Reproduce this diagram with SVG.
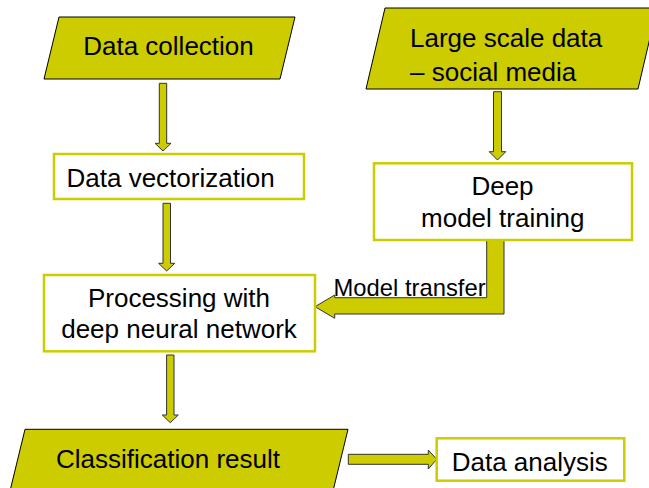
<svg xmlns="http://www.w3.org/2000/svg" width="649" height="488" viewBox="0 0 649 488">
<style>
.para{fill:#CCCC00;stroke:#000;stroke-width:1}
.box{fill:#fff;stroke:#CCCC00;stroke-width:2.5}
.arr{fill:#CCCC00;stroke:#333;stroke-width:1;stroke-linejoin:miter}
text{font-family:"Liberation Sans",Arial,sans-serif;font-size:26px;fill:#000}
.c{text-anchor:middle}
</style>
<rect width="649" height="488" fill="#fff"/>
<g id="connectors">
<polygon class="arr" points="159.3,83.3 166.7,83.3 166.7,143.3 171,143.3 163,151 155,143.3 159.3,143.3"/>
<polygon class="arr" points="163,203.3 170.5,203.3 170.5,263.3 174.8,263.3 166.7,271 158.6,263.3 163,263.3"/>
<polygon class="arr" points="493.5,91.7 501.5,91.7 501.5,151.7 505.8,151.7 497.5,160 489.2,151.7 493.5,151.7"/>
<polygon class="arr" points="166.6,355 174,355 174,415 178.3,415 170.3,422.7 162.3,415 166.6,415"/>
<polygon class="arr" points="348.3,454.3 428.3,454.3 428.3,450 436.7,459.3 428.3,469 428.3,464.3 348.3,464.3"/>
<polygon class="arr" points="486.7,240 504,240 504,314 334.7,314 334.7,318.3 315,306.7 334.7,295 334.7,297.7 486.7,297.7"/>
<text x="333.5" y="295.5" style="font-size:23.8px">Model transfer</text>
</g>
<g id="data-collection">
<polygon class="para" points="59,17 295,17 280,79 44,79"/>
<text class="c" x="168.5" y="55">Data collection</text>
</g>
<g id="large-scale-data">
<polygon class="para" points="385,8 657,8 638,89 366,89"/>
<text x="410" y="46.5">Large scale data</text>
<text x="410" y="80.5">– social media</text>
</g>
<g id="data-vectorization">
<rect class="box" x="54" y="154" width="250" height="45"/>
<text x="66.5" y="186.5">Data vectorization</text>
</g>
<g id="deep-model-training">
<rect class="box" x="374" y="163.3" width="258" height="76.7"/>
<text class="c" x="502.5" y="195">Deep</text>
<text class="c" x="502.7" y="226.7">model training</text>
</g>
<g id="processing">
<rect class="box" x="44" y="275" width="271" height="76.3"/>
<text class="c" x="179" y="306.7">Processing with</text>
<text class="c" x="179" y="338.3">deep neural network</text>
</g>
<g id="classification-result">
<polygon class="para" points="25,429.3 348,429.3 333,491 10,491"/>
<text x="56" y="468.3">Classification result</text>
</g>
<g id="data-analysis">
<rect class="box" x="436.7" y="438.3" width="187.6" height="42.4"/>
<text x="451.7" y="471">Data analysis</text>
</g>
</svg>
